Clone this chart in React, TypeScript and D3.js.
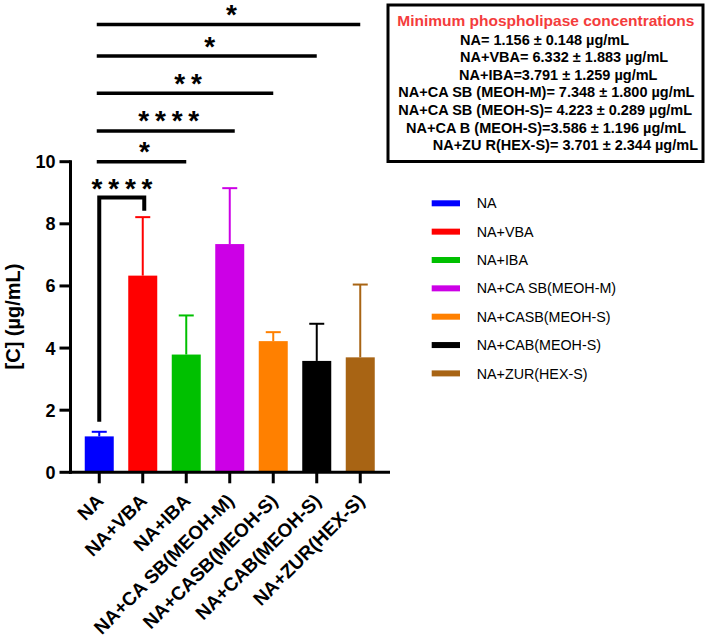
import React from "react";
import * as d3 from "d3";

const categories = [
  "NA",
  "NA+VBA",
  "NA+IBA",
  "NA+CA SB(MEOH-M)",
  "NA+CASB(MEOH-S)",
  "NA+CAB(MEOH-S)",
  "NA+ZUR(HEX-S)",
];
const means = [1.156, 6.332, 3.791, 7.348, 4.223, 3.586, 3.701];
const sds = [0.148, 1.883, 1.259, 1.8, 0.289, 1.196, 2.344];
const barColors = ["#0000ff", "#ff0000", "#00c000", "#cc00e6", "#ff8000", "#000000", "#a86414"];
const yTicks = [0, 2, 4, 6, 8, 10];
const yTitle = "[C] (µg/mL)";

// comparisons against NA: [targetIndex, stars]
const comparisons: [number, string][] = [
  [2, "*"],
  [3, "****"],
  [4, "**"],
  [5, "*"],
  [6, "*"],
];
const bracketStars = "****";

const boxTitle = "Minimum phospholipase concentrations";
const boxLines = [
  "NA= 1.156 ± 0.148 µg/mL",
  "NA+VBA= 6.332 ± 1.883 µg/mL",
  "NA+IBA=3.791 ± 1.259 µg/mL",
  "NA+CA SB (MEOH-M)= 7.348 ± 1.800 µg/mL",
  "NA+CA SB (MEOH-S)= 4.223 ± 0.289 µg/mL",
  "NA+CA B (MEOH-S)=3.586 ± 1.196 µg/mL",
  "NA+ZU R(HEX-S)= 3.701 ± 2.344 µg/mL",
];

const FONT = "'Liberation Sans', Arial, Helvetica, sans-serif";

export default function App() {
  const W = 706;
  const H = 639;
  const x = d3
    .scaleBand<string>()
    .domain(categories)
    .range([77.5, 382])
    .paddingInner(1 / 3)
    .paddingOuter(1 / 6);
  const y = d3.scaleLinear().domain([0, 10]).range([472.3, 161.7]);
  const cx = (i: number) => (x(categories[i]) as number) + x.bandwidth() / 2;

  const axisX0 = 70.5;
  const axisX1 = 390;
  const y0 = y(0);

  // layout for significance lines (in data units)
  const sigLevels = [10.0, 10.99, 12.2, 13.4, 14.42];
  const lineStart = cx(0) - 2.5;

  // info box text layout
  const boxLineX = [460, 460, 459, 398.3, 398.3, 406, 432.7];
  const boxLineY0 = 39.3;
  const boxLineStep = 17.6;

  const legendY0 = 203.3;
  const legendStep = 28.35;

  const starText = (s: string) => s.split("").join(" ");

  return (
    <svg
      width={W}
      height={H}
      style={{ position: "absolute", left: 0, top: 0, display: "block", background: "#fff" }}
      fontFamily={FONT}
    >
      <rect x={0} y={0} width={W} height={H} fill="#fff" />

      {/* bars */}
      {means.map((m, i) => (
        <rect
          key={"b" + i}
          x={x(categories[i])}
          y={y(m)}
          width={x.bandwidth()}
          height={y0 - y(m)}
          fill={barColors[i]}
        />
      ))}
      {/* error bars */}
      {means.map((m, i) => (
        <g key={"e" + i} stroke={barColors[i]} strokeWidth={2} fill="none">
          <line x1={cx(i)} x2={cx(i)} y1={y(m)} y2={y(m + sds[i])} />
          <line x1={cx(i) - 7.5} x2={cx(i) + 7.5} y1={y(m + sds[i])} y2={y(m + sds[i])} />
        </g>
      ))}

      {/* axes */}
      <g stroke="#000" strokeWidth={3} fill="none">
        <line x1={axisX0} x2={axisX0} y1={y(10) - 1.5} y2={y0 + 1.5} />
        <line x1={axisX0 - 1.5} x2={axisX1} y1={y0} y2={y0} />
        {yTicks.map((t) => (
          <line key={"yt" + t} x1={axisX0 - 11} x2={axisX0} y1={y(t)} y2={y(t)} />
        ))}
        {categories.map((c, i) => (
          <line key={"xt" + i} x1={cx(i)} x2={cx(i)} y1={y0} y2={y0 + 11} />
        ))}
      </g>
      {yTicks.map((t) => (
        <text
          key={"yl" + t}
          x={55.5}
          y={y(t)}
          dy="0.36em"
          textAnchor="end"
          fontSize={18}
          fontWeight="bold"
        >
          {t}
        </text>
      ))}
      {categories.map((c, i) => (
        <text
          key={"xl" + i}
          transform={`translate(${cx(i) + 5.5},${502}) rotate(-45)`}
          textAnchor="end"
          fontSize={19}
          fontWeight="bold"
        >
          {c}
        </text>
      ))}
      <text
        transform={`translate(19.5,${316.5}) rotate(-90)`}
        textAnchor="middle"
        fontSize={20}
        fontWeight="bold"
      >
        {yTitle}
      </text>

      {/* bracket NA vs NA+VBA */}
      <path
        d={`M${cx(0)},${y(1.63)} V${y(8.85)} H${cx(1) + 1.5} V${y(8.42)}`}
        stroke="#000"
        strokeWidth={4}
        fill="none"
      />
      <text
        x={121.5}
        y={y(8.85) + 0.5}
        textAnchor="middle"
        fontSize={28}
        fontWeight="bold"
        letterSpacing={-1}
      >
        {starText(bracketStars)}
      </text>

      {/* significance lines */}
      {comparisons.map(([j, s], k) => {
        const ly = y(sigLevels[k]);
        const x2 = cx(j) + (j === 3 ? 5 : 0);
        return (
          <g key={"s" + k}>
            <line x1={lineStart} x2={x2} y1={ly} y2={ly} stroke="#000" strokeWidth={3.5} />
            <text
              x={(lineStart + x2) / 2 + 2.5}
              y={ly - 0.5}
              textAnchor="middle"
              fontSize={28}
              fontWeight="bold"
              letterSpacing={-1}
            >
              {starText(s)}
            </text>
          </g>
        );
      })}

      {/* legend */}
      {categories.map((c, i) => (
        <g key={"lg" + i}>
          <rect
            x={431.7}
            y={legendY0 + i * legendStep - 3}
            width={28.3}
            height={6}
            fill={barColors[i]}
          />
          <text x={476.7} y={legendY0 + i * legendStep} dy="0.36em" fontSize={14.3}>
            {c}
          </text>
        </g>
      ))}

      {/* info box */}
      <rect x={388} y={5} width={315} height={156.5} fill="#fff" stroke="#000" strokeWidth={3} />
      <text
        x={545.8}
        y={20.7}
        dy="0.36em"
        textAnchor="middle"
        fontSize={15.5}
        fontWeight="bold"
        fill="#f43c3c"
      >
        {boxTitle}
      </text>
      {boxLines.map((l, i) => (
        <text
          key={"bl" + i}
          x={boxLineX[i]}
          y={boxLineY0 + i * boxLineStep}
          dy="0.36em"
          fontSize={14.5}
          fontWeight="bold"
        >
          {l}
        </text>
      ))}
    </svg>
  );
}
